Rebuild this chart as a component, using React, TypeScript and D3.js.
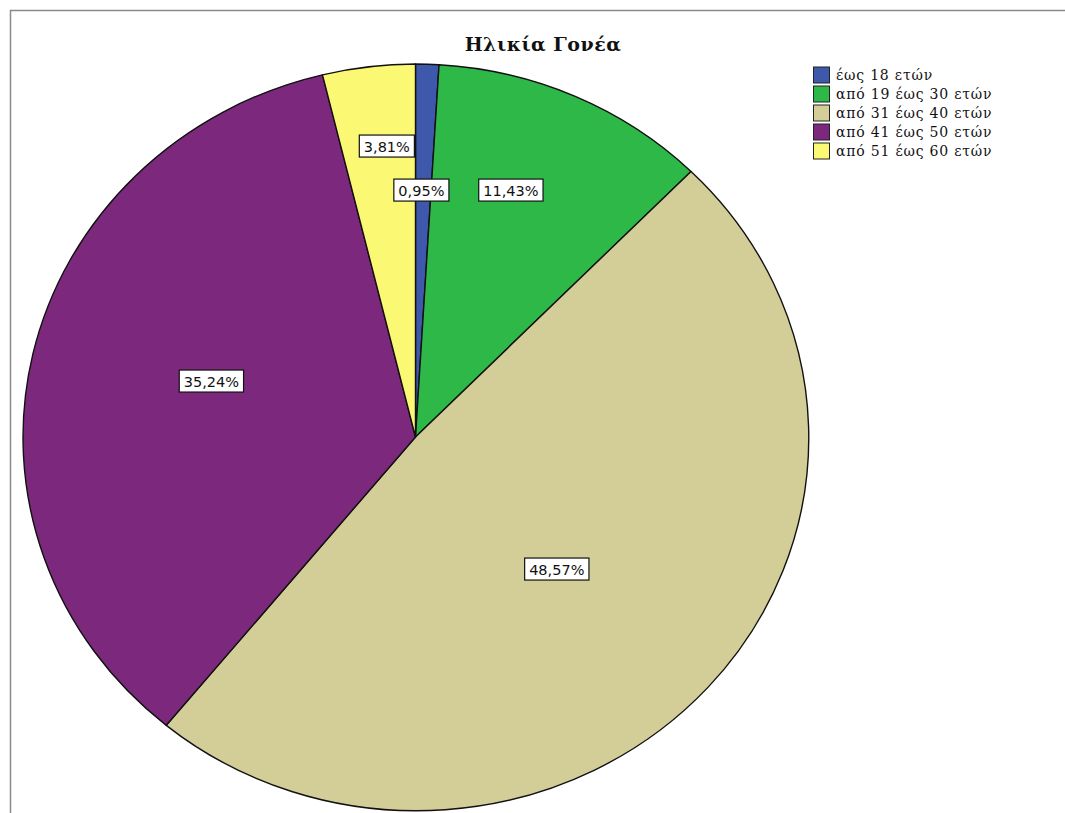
import React, { useEffect, useRef } from "react";
import * as d3 from "d3";

const categories = ["έως 18 ετών", "από 19 έως 30 ετών", "από 31 έως 40 ετών", "από 41 έως 50 ετών", "από 51 έως 60 ετών"];
const percentages = [0.95, 11.43, 48.57, 35.24, 3.81];
const percentLabels = ["0,95%", "11,43%", "48,57%", "35,24%", "3,81%"];
const colors = ["#3E58AC", "#2EB848", "#D3CE97", "#7C287D", "#FBF873"];
const title = "Ηλικία Γονέα";

// label placement (fraction of radii from centre) - layout config
const labelOffsets: [number, number][] = [
  [0.015, -0.662],
  [0.243, -0.662],
  [0.36, 0.354],
  [-0.52, -0.15],
  [-0.073, -0.78],
];

const W = 1065, H = 813;
const CX = 415.5, CY = 437, RX = 392.5, RY = 373;

export default function App() {
  const ref = useRef<SVGSVGElement>(null);
  useEffect(() => {
    const svg = d3.select(ref.current);
    svg.selectAll("*").remove();
    svg.append("rect").attr("width", W).attr("height", H).attr("fill", "#fff");
    // frame
    svg.append("path").attr("d", `M10.5,${H} L10.5,10.5 L${W},10.5`).attr("fill", "none").attr("stroke", "#8a8a8a").attr("stroke-width", 1.5);

    svg.append("text").attr("x", 543).attr("y", 51).attr("text-anchor", "middle")
      .attr("font-family", "DejaVu Serif, serif").attr("font-weight", "bold").attr("font-size", 19)
      .attr("letter-spacing", 0.5).attr("fill", "#111").text(title);

    const data = categories.map((c, i) => ({ c, v: percentages[i], i }));
    const pie = d3.pie<any>().value((d) => d.v).sort(null).startAngle(0).endAngle(2 * Math.PI);
    const arc = d3.arc<any>().innerRadius(0).outerRadius(1);
    const g = svg.append("g").attr("transform", `translate(${CX},${CY}) scale(${RX},${RY})`);
    g.selectAll("path").data(pie(data)).enter().append("path")
      .attr("d", arc as any)
      .attr("fill", (d: any) => colors[d.data.i])
      .attr("stroke", "#111").attr("stroke-width", 1.4)
      .attr("vector-effect", "non-scaling-stroke")
      .attr("stroke-linejoin", "round");

    const lg = svg.append("g");
    data.forEach((d, i) => {
      const lx = CX + labelOffsets[i][0] * RX;
      const ly = CY + labelOffsets[i][1] * RY;
      const grp = lg.append("g");
      const rect = grp.append("rect");
      const t = grp.append("text").attr("x", lx).attr("y", ly + 5.5).attr("text-anchor", "middle")
        .attr("font-family", "DejaVu Sans, sans-serif").attr("font-size", 14.5).attr("fill", "#111").text(percentLabels[i]);
      const bb = (t.node() as SVGTextElement).getBBox();
      const w = bb.width + 9, h = 22;
      rect.attr("x", lx - w / 2).attr("y", ly - h / 2).attr("width", w).attr("height", h)
        .attr("fill", "#fff").attr("stroke", "#111").attr("stroke-width", 1.2);
    });

    const leg = svg.append("g");
    categories.forEach((c, i) => {
      const y = 67 + i * 19;
      leg.append("rect").attr("x", 813.5).attr("y", y).attr("width", 16).attr("height", 16)
        .attr("fill", colors[i]).attr("stroke", "#222").attr("stroke-width", 1);
      leg.append("text").attr("x", 836).attr("y", y + 13).attr("font-family", "DejaVu Serif, serif")
        .attr("font-size", 14).attr("letter-spacing", 0.8).attr("fill", "#111").text(c);
    });
  }, []);
  return (
    <svg ref={ref} width={W} height={H} style={{ position: "absolute", left: 0, top: 0 }} />
  );
}
